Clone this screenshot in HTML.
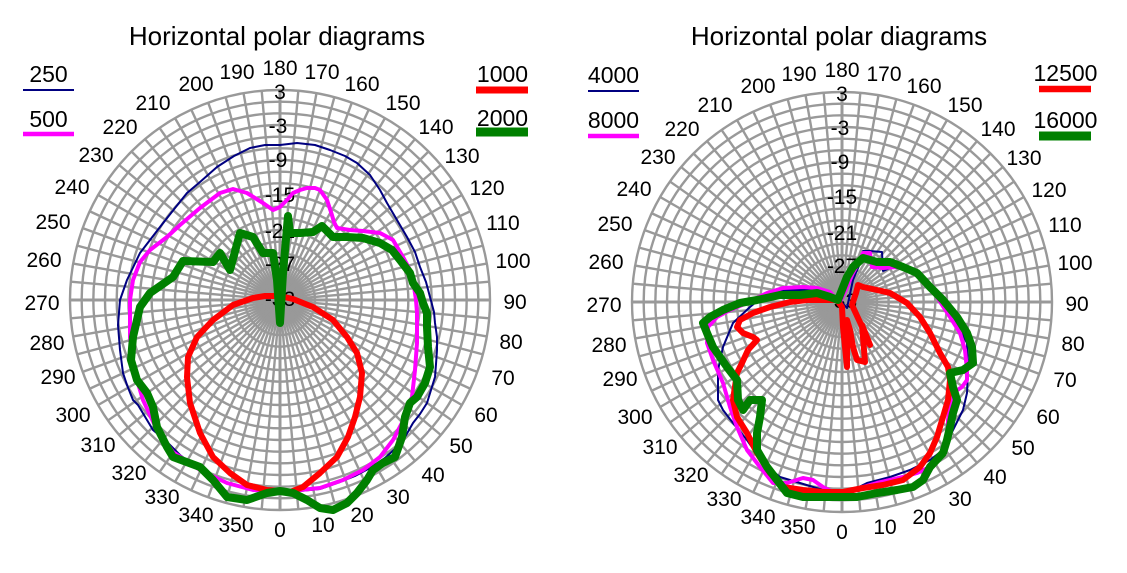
<!DOCTYPE html>
<html>
<head>
<meta charset="utf-8">
<style>
html,body{margin:0;padding:0;background:#fff;}
svg{display:block;}
text{font-family:"Liberation Sans",Arial,sans-serif;fill:#000;}
.ang{font-size:21px;text-anchor:middle;}
.val{font-size:21px;text-anchor:middle;}
.ttl{font-size:26px;text-anchor:middle;}
.leg{font-size:23px;text-anchor:middle;}
.c{fill:none;stroke-linejoin:round;stroke-linecap:round;}
</style>
</head>
<body>
<svg width="1127" height="573" viewBox="0 0 1127 573" xmlns="http://www.w3.org/2000/svg">
<rect width="1127" height="573" fill="#fff"/>
<defs>
  <line id="sp" x1="0" y1="0" x2="0" y2="210" stroke="#999" stroke-width="2.4"/>
  <g id="sp9">
    <use href="#sp"/>
    <use href="#sp" transform="rotate(5)"/>
    <use href="#sp" transform="rotate(10)"/>
    <use href="#sp" transform="rotate(15)"/>
    <use href="#sp" transform="rotate(20)"/>
    <use href="#sp" transform="rotate(25)"/>
    <use href="#sp" transform="rotate(30)"/>
    <use href="#sp" transform="rotate(35)"/>
    <use href="#sp" transform="rotate(40)"/>
  </g>
  <g id="grid">
    <g fill="none" stroke="#999" stroke-width="2.4">
      <circle r="11.67"/><circle r="23.33"/><circle r="35"/><circle r="46.67"/><circle r="58.33"/><circle r="70"/>
      <circle r="81.67"/><circle r="93.33"/><circle r="105"/><circle r="116.67"/><circle r="128.33"/><circle r="140"/>
      <circle r="151.67"/><circle r="163.33"/><circle r="175"/><circle r="186.67"/><circle r="198.33"/><circle r="210"/>
    </g>
    <use href="#sp9"/>
    <use href="#sp9" transform="rotate(45)"/>
    <use href="#sp9" transform="rotate(90)"/>
    <use href="#sp9" transform="rotate(135)"/>
    <use href="#sp9" transform="rotate(180)"/>
    <use href="#sp9" transform="rotate(225)"/>
    <use href="#sp9" transform="rotate(270)"/>
    <use href="#sp9" transform="rotate(315)"/>
    <line x1="-210" y1="0" x2="210" y2="0" stroke="#999" stroke-width="3"/>
    <line x1="0" y1="-210" x2="0" y2="210" stroke="#999" stroke-width="3"/>
  </g>
</defs>

<!-- ============ LEFT CHART ============ -->
<use href="#grid" transform="translate(280,300)"/>
<text class="ttl" x="277" y="45">Horizontal polar diagrams</text>

<g class="val">
<text x="280" y="99">3</text>
<text x="278" y="133">-3</text>
<text x="278" y="167">-9</text>
<text x="280" y="202">-15</text>
<text x="280" y="238">-21</text>
<text x="280" y="271">-27</text>
<text x="280" y="306">-33</text>
</g>

<g class="ang">
<text x="280" y="75">180</text>
<text x="322" y="79">170</text>
<text x="362" y="91">160</text>
<text x="403" y="110">150</text>
<text x="436" y="134">140</text>
<text x="462" y="163">130</text>
<text x="487" y="195">120</text>
<text x="503" y="230">110</text>
<text x="513" y="268">100</text>
<text x="515" y="309">90</text>
<text x="511" y="349">80</text>
<text x="503" y="385">70</text>
<text x="486" y="422">60</text>
<text x="461" y="453">50</text>
<text x="433" y="482">40</text>
<text x="398" y="504">30</text>
<text x="362" y="522">20</text>
<text x="323" y="532">10</text>
<text x="280" y="537">0</text>
<text x="236" y="532">350</text>
<text x="196" y="522">340</text>
<text x="162" y="504">330</text>
<text x="129" y="480">320</text>
<text x="98" y="452">310</text>
<text x="73" y="422">300</text>
<text x="58" y="384">290</text>
<text x="47" y="350">280</text>
<text x="42" y="310">270</text>
<text x="44" y="267">260</text>
<text x="53" y="229">250</text>
<text x="72" y="194">240</text>
<text x="96" y="162">230</text>
<text x="120" y="134">220</text>
<text x="153" y="110">210</text>
<text x="196" y="91">200</text>
<text x="237" y="79">190</text>
</g>

<!-- legend left -->
<text class="leg" x="48.5" y="82">250</text>
<line x1="23" y1="90" x2="74" y2="90" stroke="#000080" stroke-width="2"/>
<text class="leg" x="48.5" y="127">500</text>
<line x1="23" y1="134" x2="74" y2="134" stroke="#ff00ff" stroke-width="4.5"/>
<text class="leg" x="502.5" y="82">1000</text>
<line x1="476" y1="90" x2="528" y2="90" stroke="#ff0000" stroke-width="7"/>
<text class="leg" x="502.5" y="126">2000</text>
<line x1="476" y1="132" x2="528" y2="132" stroke="#008000" stroke-width="9"/>

<!-- navy 250 -->
<polyline class="c" stroke="#000080" stroke-width="2" points="280,145 297,143 315,145 330,150 345,156 357,163 370,175 380,190 387,203 397,220 407,237 415,252 420,267 426,282 430,297 434,312 435,323 437,337 437,350 436,364 435,377 431,390 427,403 420,414 413,423 405,437 397,447 385,458 370,468 355,476 340,482 320,489 300,491 280,492 260,491 240,487 220,480 200,470 180,455 165,440 153,430 147,420 138,405 133,400 127,385 123,373 120,350 118,325 120,300 127,280 140,253 150,240 160,227 175,208 187,193 200,182 217,167 234,156 250,148 265,145 280,145"/>
<!-- magenta 500 -->
<polyline class="c" stroke="#ff00ff" stroke-width="4" points="280,207 287,200 293,193 300,190 307,188 315,188 320,190 327,200 331,212 334,222 337,228 350,230 363,231 380,233 393,240 403,257 410,270 413,280 416,300 417,313 417,343 415,370 412,397 405,417 393,440 380,457 363,470 343,480 320,488 300,490 280,491 253,490 227,483 200,470 173,452 157,430 143,400 137,380 132,357 130,337 130,320 130,300 133,280 140,262 150,250 167,237 180,225 200,208 220,193 233,189 247,193 263,203 273,210 280,207"/>
<!-- red 1000 -->
<polyline class="c" stroke="#ff0000" stroke-width="6" points="265,296 280,296 293,299 313,307 333,320 347,337 357,353 362,373 360,397 355,417 348,437 337,457 320,473 303,487 290,492 280,491 267,490 247,485 230,473 213,457 200,433 190,403 187,377 188,357 197,337 213,320 233,305 253,298 265,296"/>
<!-- green 2000 -->
<polyline class="c" stroke="#008000" stroke-width="8" points="288,216 290,233 300,233 313,232 322,226 328,232 333,237 347,237 363,238 380,243 392,250 400,260 410,273 413,283 420,293 423,303 427,313 427,327 428,347 430,367 425,383 417,397 410,403 405,417 402,437 395,457 383,463 373,470 367,480 357,493 347,503 333,510 320,508 307,500 293,493 280,491 267,493 247,500 227,497 213,480 200,467 173,457 167,447 157,427 153,407 147,393 137,380 131,360 133,337 140,307 150,293 173,277 183,261 213,262 220,253 230,270 240,233 253,237 263,253 273,253 277,280 280,323 283,273 288,216"/>

<!-- ============ RIGHT CHART ============ -->
<use href="#grid" transform="translate(842,302)"/>
<text class="ttl" x="839" y="45">Horizontal polar diagrams</text>

<g class="val">
<text x="842" y="101">3</text>
<text x="840" y="135">-3</text>
<text x="840" y="169">-9</text>
<text x="842" y="204">-15</text>
<text x="842" y="240">-21</text>
<text x="842" y="273">-27</text>
<text x="842" y="308">-33</text>
</g>

<g class="ang">
<text x="842" y="77">180</text>
<text x="884" y="81">170</text>
<text x="924" y="93">160</text>
<text x="965" y="112">150</text>
<text x="998" y="136">140</text>
<text x="1024" y="165">130</text>
<text x="1049" y="197">120</text>
<text x="1065" y="232">110</text>
<text x="1075" y="270">100</text>
<text x="1077" y="311">90</text>
<text x="1073" y="351">80</text>
<text x="1065" y="387">70</text>
<text x="1048" y="424">60</text>
<text x="1023" y="455">50</text>
<text x="995" y="484">40</text>
<text x="960" y="506">30</text>
<text x="924" y="524">20</text>
<text x="885" y="534">10</text>
<text x="842" y="539">0</text>
<text x="798" y="534">350</text>
<text x="758" y="524">340</text>
<text x="724" y="506">330</text>
<text x="691" y="482">320</text>
<text x="660" y="454">310</text>
<text x="635" y="424">300</text>
<text x="620" y="386">290</text>
<text x="609" y="352">280</text>
<text x="604" y="312">270</text>
<text x="606" y="269">260</text>
<text x="615" y="231">250</text>
<text x="634" y="196">240</text>
<text x="658" y="164">230</text>
<text x="682" y="136">220</text>
<text x="715" y="112">210</text>
<text x="758" y="93">200</text>
<text x="799" y="81">190</text>
</g>

<!-- legend right -->
<text class="leg" x="613.5" y="83">4000</text>
<line x1="588" y1="91" x2="639" y2="91" stroke="#000080" stroke-width="2"/>
<text class="leg" x="613.5" y="128">8000</text>
<line x1="588" y1="136" x2="639" y2="136" stroke="#ff00ff" stroke-width="4.5"/>
<text class="leg" x="1065.5" y="81">12500</text>
<line x1="1039" y1="89" x2="1091" y2="89" stroke="#ff0000" stroke-width="6.5"/>
<text class="leg" x="1065.5" y="128">16000</text>
<line x1="1039" y1="136" x2="1091" y2="136" stroke="#008000" stroke-width="9"/>

<!-- navy 4000 -->
<polyline class="c" stroke="#000080" stroke-width="2" points="847,308 853,280 860,263 863,251 870,251 882,252 883,271 890,268 910,268 923,280 943,303 957,323 967,343 968,370 967,393 963,410 953,430 943,450 930,460 910,470 890,477 867,483 843,495 823,490 800,483 780,477 763,463 747,440 733,423 723,410 718,400 718,370 723,347 733,323 750,307 767,293 783,290 810,290 827,292 837,297 847,308"/>
<!-- magenta 8000 -->
<polyline class="c" stroke="#ff00ff" stroke-width="4" points="840,302 847,287 853,273 860,260 863,253 870,253 872,267 883,268 897,267 910,270 923,280 937,297 950,317 960,333 965,350 967,370 967,380 962,387 953,393 950,407 948,420 948,437 943,450 930,467 917,473 903,477 890,480 877,483 863,487 850,490 842,495 833,492 823,487 813,480 803,478 787,483 773,483 760,467 747,450 737,427 730,407 723,383 713,360 707,343 708,327 717,317 730,310 747,303 767,293 783,288 803,287 817,288 830,292 837,300 840,302"/>
<!-- red 12500 -->
<polyline class="c" stroke="#ff0000" stroke-width="6" points="737,327 743,333 753,337 757,340 748,350 742,363 737,373 733,400 737,417 747,433 757,453 770,473 783,487 803,490 823,492 843,492 863,488 883,485 903,480 920,467 930,453 937,437 943,417 948,400 950,380 948,367 940,353 930,333 920,317 907,303 890,293 877,290 863,287 858,285 856,293 852,305 858,318 866,335 870,345 862,325 865,362 857,360 853,347 850,330 847,320 847,367 843,327 842,307 837,300 823,300 807,300 790,302 770,307 753,313 740,320 737,327"/>
<!-- green 16000 -->
<polyline class="c" stroke="#008000" stroke-width="8" points="838,300 847,277 853,267 863,258 877,262 890,262 903,267 917,273 930,287 943,300 957,317 967,333 972,347 973,363 963,370 950,373 953,387 957,400 953,413 950,427 947,440 943,453 930,467 923,480 913,487 897,490 877,493 857,497 843,497 823,497 803,497 787,493 777,480 767,467 757,450 757,433 760,417 762,400 750,400 743,410 738,400 737,380 727,367 720,357 713,347 707,333 703,323 710,317 723,310 740,303 757,300 780,295 800,295 817,293 830,297 838,300"/>
</svg>
</body>
</html>
